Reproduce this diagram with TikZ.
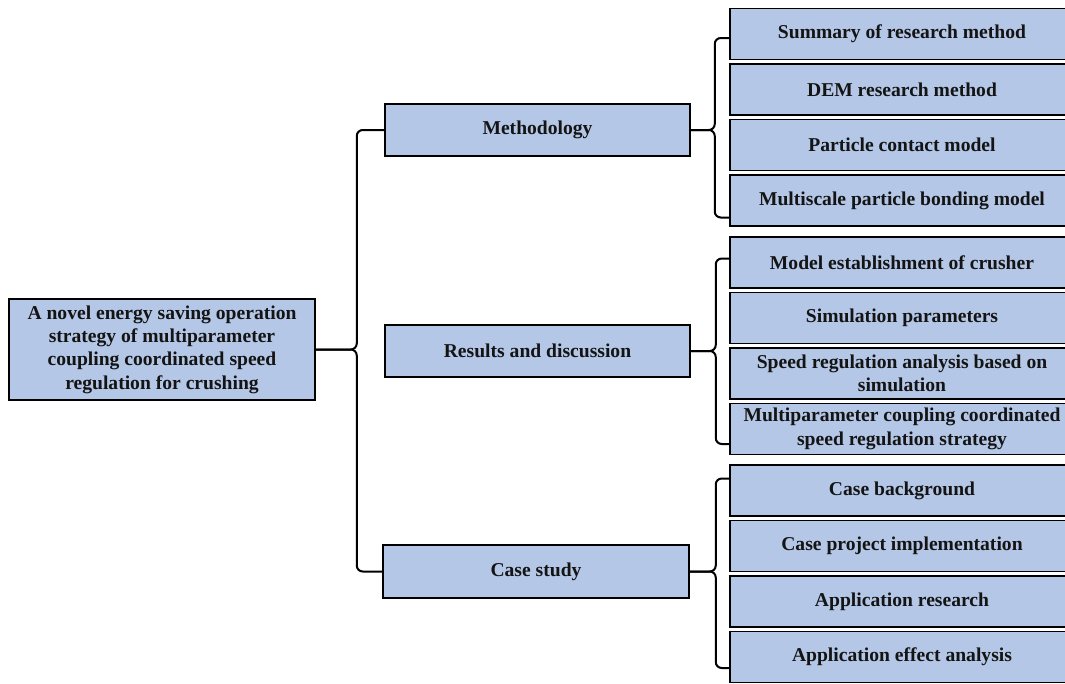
\documentclass[tikz,border=0pt]{standalone}
\usepackage{fontspec}
\setmainfont{Liberation Serif}
\usetikzlibrary{calc}
\definecolor{boxfill}{HTML}{B4C7E7}
\definecolor{txt}{HTML}{141414}
\tikzset{
  box/.style={draw=black, line width=1.5pt, fill=boxfill, text=txt, align=center,
    font=\bfseries\fontsize{19.6}{23.4}\selectfont, inner sep=1pt},
  mid/.style={box, minimum width=305pt, minimum height=52pt},
  leaf/.style={box, minimum width=344pt, minimum height=51pt},
  brace/.style={draw=black, line width=2pt, rounded corners=6pt}
}
\begin{document}
\begin{tikzpicture}[x=1pt,y=-1pt]
\useasboundingbox (0,0) rectangle (1065,683);
% root
\node[box, minimum width=306pt, minimum height=101pt] (root) at (162,349.5)
  {A novel energy saving operation\\strategy of multiparameter\\coupling coordinated speed\\regulation for crushing};
% middle level
\node[mid] (meth) at (537.5,130) {Methodology};
\node[mid] (res) at (537.5,351) {Results and discussion};
\node[mid, minimum width=306pt, minimum height=53pt] (case) at (536,571.5) {Case study};
% leaves
\node[leaf] (m1) at (902,34) {Summary of research method};
\node[leaf] (m2) at (902,89.5) {DEM research method};
\node[leaf] (m3) at (902,145) {Particle contact model};
\node[leaf] (m4) at (902,200.5) {Multiscale particle bonding model};
\node[leaf] (r1) at (902,262.5) {Model establishment of crusher};
\node[leaf] (r2) at (902,318) {Simulation parameters};
\node[leaf] (r3) at (902,373.5) {Speed regulation analysis based on\\simulation};
\node[leaf] (r4) at (902,429) {Multiparameter coupling coordinated\\speed regulation strategy};
\node[leaf] (c1) at (902,490.5) {Case background};
\node[leaf] (c2) at (902,546) {Case project implementation};
\node[leaf] (c3) at (902,601.5) {Application research};
\node[leaf] (c4) at (902,657) {Application effect analysis};
% left brace
\coordinate (k0) at ($(root.east)+(41,0)$);
\draw[brace] (meth.west) -| (k0) -- (root.east);
\draw[brace] (case.west) -| (k0) -- (root.east);
% methodology brace
\coordinate (k1) at ($(meth.east)+(24,0)$);
\draw[brace] ($(m1.west)+(0,4)$) -| (k1) -- (meth.east);
\draw[brace] ($(m4.west)+(0,17)$) -| (k1) -- (meth.east);
% results brace
\coordinate (k2) at ($(res.east)+(25,0)$);
\draw[brace] ($(r1.west)+(0,-4)$) -| (k2) -- (res.east);
\draw[brace] ($(r4.west)+(0,15)$) -| (k2) -- (res.east);
% case brace
\coordinate (k3) at ($(case.east)+(26,0)$);
\draw[brace] ($(c1.west)+(0,-12)$) -| (k3) -- (case.east);
\draw[brace] ($(c4.west)+(0,11)$) -| (k3) -- (case.east);
\end{tikzpicture}
\end{document}
